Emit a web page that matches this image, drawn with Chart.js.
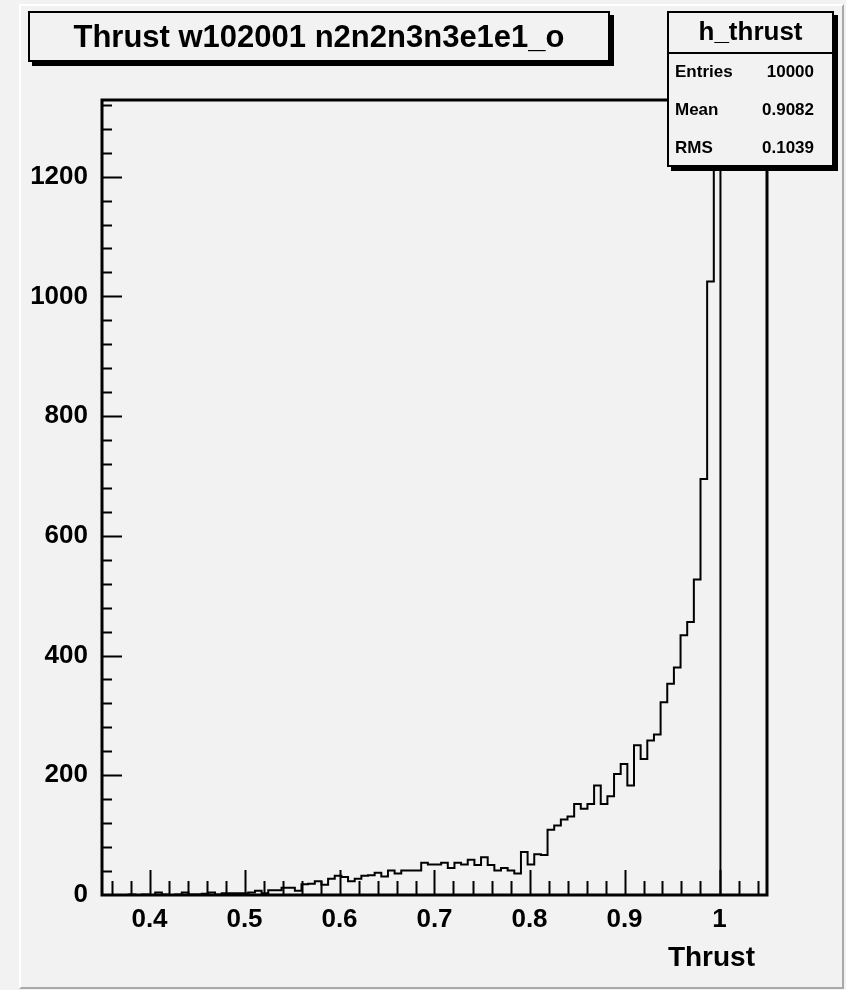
<!DOCTYPE html>
<html>
<head>
<meta charset="utf-8">
<script src="https://cdn.jsdelivr.net/npm/chart.js@4/dist/chart.umd.min.js"></script>
<style>
  body { margin: 0; background: #f2f2f2; }
  #wrap { position: relative; width: 846px; height: 990px; overflow: hidden; }
  #bevel { position: absolute; left: 19px; top: 4px; width: 821px; height: 981px;
           border-left: 2px solid #fff; border-top: 2px solid #fff;
           border-right: 2px solid #a9a9a9; border-bottom: 2px solid #a9a9a9; }
  canvas { position: absolute; left: 0; top: 0; }
  .pave { position: absolute; background: #f2f2f2; border: 2px solid #000; box-shadow: 4px 4px 0 #000;
          font-family: "Liberation Sans", Arial, sans-serif; font-weight: bold; color: #000; box-sizing: border-box; }
  #title { left: 28px; top: 11px; width: 582px; height: 51px; font-size: 31px; line-height: 47px; text-align: center; }
  #stats { left: 667px; top: 11px; width: 167px; height: 156px; }
  #stats .head { height: 39px; border-bottom: 2px solid #000; font-size: 26px; line-height: 36px; text-align: center; }
  #stats .row { height: 38px; font-size: 17px; line-height: 36px; padding: 0 18px 0 6px; display: flex; justify-content: space-between; }
  #xtitle { position: absolute; right: 91px; top: 940px; font-family: "Liberation Sans", Arial, sans-serif;
            font-weight: bold; font-size: 28px; line-height: 34px; color: #000; }
</style>
</head>
<body>
<div id="wrap">
  <div id="bevel"></div>
  <canvas id="histo" width="846" height="990"></canvas>
  <div class="pave" id="title">Thrust w102001 n2n2n3n3e1e1_o</div>
  <div class="pave" id="stats">
    <div class="head">h_thrust</div>
    <div class="row"><span>Entries</span><span>10000</span></div>
    <div class="row"><span>Mean</span><span>0.9082</span></div>
    <div class="row"><span>RMS</span><span>0.1039</span></div>
  </div>
  <div id="xtitle">Thrust</div>
</div>
<script>
// ヒストグラムの設定（100ビン, 0.35〜1.05）
const xMin = 0.35;
const xMax = 1.05;
const nBins = 100;
const yMax = 1328;

// 各ビンの中身
const counts = [
  0, 0, 0, 0, 1, 0, 1, 0, 4, 1,
  0, 1, 4, 1, 1, 2, 4, 1, 3, 3,
  3, 3, 4, 7, 3, 8, 8, 12, 12, 7,
  18, 19, 23, 17, 27, 32, 30, 23, 27, 32,
  33, 37, 31, 41, 36, 41, 41, 41, 54, 51,
  51, 54, 45, 54, 51, 59, 50, 63, 50, 41,
  45, 41, 36, 72, 51, 68, 67, 109, 116, 126,
  131, 152, 144, 152, 183, 152, 165, 202, 219, 183,
  250, 227, 258, 268, 322, 353, 380, 434, 456, 527,
  695, 1025, 1265, 0, 0, 0, 0, 0, 0, 0
];

// 軸の目盛りラベル
const xTickValues = [0.4, 0.5, 0.6, 0.7, 0.8, 0.9, 1.0];
const xTickLabels = ['0.4', '0.5', '0.6', '0.7', '0.8', '0.9', '1'];
const yTickValues = [0, 200, 400, 600, 800, 1000, 1200];
const yTickLabels = ['0', '200', '400', '600', '800', '1000', '1200'];

// ビンの左端に値を置き、最後に右端を足す
const binWidth = (xMax - xMin) / nBins;
const points = counts.map((c, i) => ({ x: xMin + i * binWidth, y: c }));
points.push({ x: xMax, y: counts[nBins - 1] });

const labelFont = { family: '"Liberation Sans", Arial, sans-serif', size: 26, weight: 'bold' };

// ROOT風の枠と内向きの目盛りを描くプラグイン
const rootFrame = {
  id: 'rootFrame',
  afterDatasetsDraw(chart) {
    const { ctx, chartArea: a, scales: { x, y } } = chart;
    ctx.save();
    ctx.strokeStyle = '#000';
    ctx.lineWidth = 2;
    ctx.beginPath();
    // x軸: 0.02ごとに小目盛り, 0.1ごとに大目盛り
    for (let i = 36; i <= 104; i += 2) {
      const px = Math.round(x.getPixelForValue(i / 100)) + 0.5;
      const len = (i % 10 === 0) ? 25 : 14;
      ctx.moveTo(px, a.bottom);
      ctx.lineTo(px, a.bottom - len);
    }
    // y軸: 40ごとに小目盛り, 200ごとに大目盛り
    for (let v = 40; v < yMax; v += 40) {
      const py = Math.round(y.getPixelForValue(v)) + 0.5;
      const len = (v % 200 === 0) ? 20 : 10;
      ctx.moveTo(a.left, py);
      ctx.lineTo(a.left + len, py);
    }
    ctx.stroke();
    // フレーム
    ctx.lineWidth = 3;
    ctx.strokeRect(a.left, a.top, a.right - a.left, a.bottom - a.top);
    ctx.restore();
  }
};

const ctx = document.getElementById('histo').getContext('2d');
new Chart(ctx, {
  type: 'line',
  data: {
    datasets: [{
      data: points,
      stepped: true,
      borderColor: '#000',
      borderWidth: 2,
      pointRadius: 0,
      fill: false
    }]
  },
  options: {
    animation: false,
    responsive: false,
    layout: { padding: { left: 0, right: 79, top: 100, bottom: 0 } },
    plugins: { legend: { display: false }, tooltip: { enabled: false } },
    scales: {
      x: {
        type: 'linear',
        min: xMin,
        max: xMax,
        afterFit: s => { s.height = 95; },
        afterBuildTicks: s => { s.ticks = xTickValues.map(v => ({ value: v })); },
        grid: { display: false, drawTicks: false },
        border: { display: false },
        ticks: {
          color: '#000',
          font: labelFont,
          padding: 9,
          maxRotation: 0,
          autoSkip: false,
          callback: (v, i) => xTickLabels[i]
        }
      },
      y: {
        min: 0,
        max: yMax,
        afterFit: s => { s.width = 102; },
        afterBuildTicks: s => { s.ticks = yTickValues.map(v => ({ value: v })); },
        grid: { display: false, drawTicks: false },
        border: { display: false },
        ticks: {
          color: '#000',
          font: labelFont,
          padding: 14,
          autoSkip: false,
          callback: (v, i) => yTickLabels[i]
        }
      }
    }
  },
  plugins: [rootFrame]
});
</script>
</body>
</html>
